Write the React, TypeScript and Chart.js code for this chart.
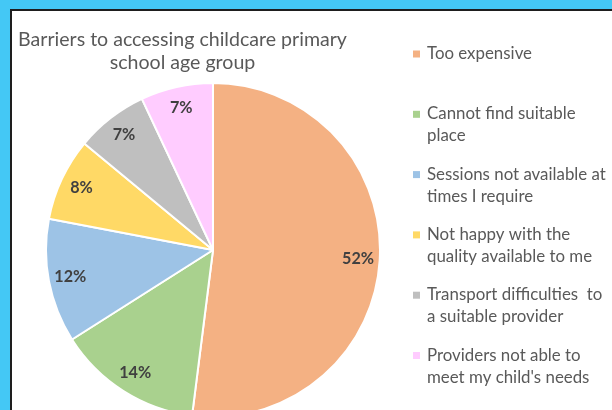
import { useEffect, useRef } from "react";
import { Chart, registerables } from "chart.js";

Chart.register(...registerables);

const categories: string[][] = [
  ["Too expensive"],
  ["Cannot find suitable", "place"],
  ["Sessions not available at", "times I require"],
  ["Not happy with the", "quality available to me"],
  ["Transport difficulties  to", "a suitable provider"],
  ["Providers not able to", "meet my child's needs"],
];
const values = [52, 14, 12, 8, 7, 7];
const colors = ["#F4B183", "#A9D18E", "#9DC3E6", "#FFD966", "#BFBFBF", "#FFCCFF"];
const titleLines = ["Barriers to accessing childcare primary", "school age group"];

const FONT = "Lato, 'Open Sans', sans-serif";

function fitSize(ctx: CanvasRenderingContext2D, text: string, target: number, weight: string) {
  ctx.font = `${weight} 100px ${FONT}`;
  const w = ctx.measureText(text).width;
  return (100 * target) / w;
}

const decorPlugin = {
  id: "decor",
  beforeDraw(chart: any) {
    const ctx: CanvasRenderingContext2D = chart.ctx;
    const W = chart.width;
    const H = chart.height;
    ctx.save();
    ctx.fillStyle = "#44C8F5";
    ctx.fillRect(0, 0, W, H);
    ctx.fillStyle = "#FFFFFF";
    ctx.fillRect(12, 11, W - 12, H - 11);
    ctx.fillStyle = "#1E1E1E";
    ctx.fillRect(10, 9, W - 10, 2);
    ctx.fillRect(10, 9, 2, H - 9);
    ctx.restore();
  },
  afterDatasetsDraw(chart: any) {
    const ctx: CanvasRenderingContext2D = chart.ctx;
    const meta = chart.getDatasetMeta(0);
    const total = values.reduce((a, b) => a + b, 0);
    ctx.save();
    const size = fitSize(ctx, "52%", 32, "bold");
    ctx.font = `bold ${size}px ${FONT}`;
    ctx.fillStyle = "#404040";
    ctx.textAlign = "center";
    ctx.textBaseline = "middle";
    meta.data.forEach((arc: any, i: number) => {
      const p = arc.getProps(["x", "y", "startAngle", "endAngle", "outerRadius"], true);
      const mid = (p.startAngle + p.endAngle) / 2;
      const r = p.outerRadius * 0.87;
      const pct = Math.round((values[i] / total) * 100) + "%";
      ctx.fillText(pct, p.x + Math.cos(mid) * r, p.y + Math.sin(mid) * r);
    });
    ctx.restore();
  },
  afterDraw(chart: any) {
    const ctx: CanvasRenderingContext2D = chart.ctx;
    ctx.save();
    const ts = fitSize(ctx, titleLines[0], 329, "normal");
    ctx.font = `normal ${ts}px ${FONT}`;
    ctx.fillStyle = "#595959";
    ctx.textAlign = "center";
    ctx.textBaseline = "alphabetic";
    titleLines.forEach((l, i) => ctx.fillText(l, 182.5, 46 + i * 23));
    const ls = fitSize(ctx, "Sessions not available at", 179, "normal");
    ctx.font = `normal ${ls}px ${FONT}`;
    ctx.textAlign = "left";
    categories.forEach((lines, i) => {
      const base = 59 + i * 60.3;
      ctx.fillStyle = colors[i];
      ctx.fillRect(413, base - 8.5, 7, 7);
      ctx.fillStyle = "#595959";
      lines.forEach((l, j) => ctx.fillText(l, 427, base + j * 22));
    });
    ctx.restore();
  },
};

export default function App() {
  const ref = useRef<HTMLCanvasElement | null>(null);
  useEffect(() => {
    if (!ref.current) return;
    const chart = new Chart(ref.current, {
      type: "pie",
      data: {
        labels: categories,
        datasets: [
          {
            data: values,
            backgroundColor: colors,
            borderColor: "#FFFFFF",
            borderWidth: 2,
          },
        ],
      },
      options: {
        responsive: false,
        animation: false,
        devicePixelRatio: 1,
        layout: { padding: { left: 45, right: 231, top: 82, bottom: 12 } },
        plugins: {
          legend: { display: false },
          title: { display: false },
          tooltip: { enabled: false },
        },
      },
      plugins: [decorPlugin],
    });
    return () => chart.destroy();
  }, []);
  return (
    <div style={{ position: "fixed", left: 0, top: 0, width: 612, height: 410, overflow: "hidden" }}>
      <canvas ref={ref} width={612} height={430} style={{ display: "block" }} />
    </div>
  );
}
